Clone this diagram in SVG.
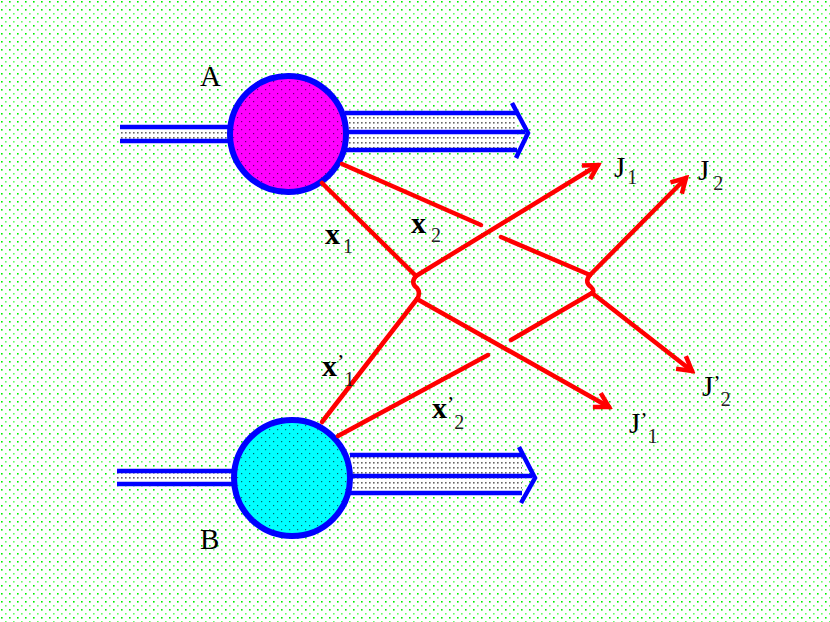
<svg xmlns="http://www.w3.org/2000/svg" width="830" height="622" viewBox="0 0 830 622">
<defs>
<pattern id="bg" width="8" height="8" patternUnits="userSpaceOnUse">
<rect width="8" height="8" fill="#ffffff"/>
<rect x="1" y="1" width="1.6" height="1.6" fill="#00ee00"/>
<rect x="5" y="5" width="1.6" height="1.6" fill="#66ff66"/>
</pattern>
<pattern id="inner" width="8" height="8" patternUnits="userSpaceOnUse">
<rect x="1" y="1" width="1.2" height="1.2" fill="#000" opacity="0.6"/>
<rect x="5" y="5" width="1.2" height="1.2" fill="#000" opacity="0.6"/>
</pattern>
<pattern id="ax" width="4" height="5" patternUnits="userSpaceOnUse">
<rect width="4" height="5" fill="#ffffff"/>
<rect x="1" y="2" width="1.6" height="1.6" fill="#666"/>
</pattern>
<marker id="arr" viewBox="0 0 20 20" refX="16" refY="10" markerWidth="20" markerHeight="20" markerUnits="userSpaceOnUse" orient="auto">
<path d="M2,2 L16,10 L2,18" fill="none" stroke="#ff0000" stroke-width="4.5" stroke-linejoin="miter"/>
</marker>
</defs>
<style>
.ax{stroke:#0000ff;stroke-width:4.5;fill:none}
.cell{stroke:#0000ff;stroke-width:6}
.red{stroke:#ff0000;stroke-width:4.5;fill:none;stroke-linecap:round}
.lbl{font-family:"Liberation Serif",serif;fill:#000;font-size:29px}
.sub{font-size:20px;fill:#222}
.pr{font-size:22px}
.bx{font-size:30px;font-weight:bold}
</style>
<rect width="830" height="622" fill="url(#bg)"/>

<g id="neuronA">
<rect x="120" y="128" width="110" height="12" fill="url(#ax)"/>
<line class="ax" x1="120" y1="127" x2="232" y2="127"/>
<line class="ax" x1="120" y1="141" x2="232" y2="141"/>
<rect x="345" y="114" width="170" height="35" fill="url(#ax)"/>
<line class="ax" x1="345" y1="113" x2="517" y2="113"/>
<line class="ax" x1="345" y1="132" x2="525" y2="132"/>
<line class="ax" x1="345" y1="150" x2="517" y2="150"/>
<path class="ax" d="M512,103 L528,133 L516,158" stroke-width="5"/>
<circle class="cell" cx="288" cy="134" r="58" fill="#ff00ff"/>
<circle cx="288" cy="134" r="55" fill="url(#inner)"/>
<text class="lbl" x="200" y="86">A</text>
</g>

<g id="neuronB">
<rect x="117" y="472" width="118" height="11" fill="url(#ax)"/>
<line class="ax" x1="117" y1="471" x2="236" y2="471"/>
<line class="ax" x1="117" y1="484" x2="236" y2="484"/>
<rect x="350" y="456" width="172" height="36" fill="url(#ax)"/>
<line class="ax" x1="350" y1="455" x2="522" y2="455"/>
<line class="ax" x1="350" y1="476" x2="532" y2="476"/>
<line class="ax" x1="350" y1="493" x2="522" y2="493"/>
<path class="ax" d="M519,447 L535,478 L521,503" stroke-width="5"/>
<circle class="cell" cx="292" cy="478" r="58" fill="#00ffff"/>
<circle cx="292" cy="478" r="55" fill="url(#inner)"/>
<text class="lbl" x="200" y="549">B</text>
</g>

<g id="connectors">
<path class="red" d="M322,183 L416,276"/>
<path class="red" d="M342,164 L481,225"/>
<path class="red" d="M501,237 L590,275"/>
<path class="red" d="M322,422 L417,299"/>
<path class="red" d="M338,436 L488,355"/>
<path class="red" d="M511,340 L592,293"/>
<path class="red" d="M416,276 Q410,283 417,288 Q421,293 417,299"/>
<path class="red" d="M590,275 Q584,282 591,287 Q595,291 592,293"/>
<path class="red" d="M416,276 L598,165" marker-end="url(#arr)"/>
<path class="red" d="M590,275 L686,178" marker-end="url(#arr)"/>
<path class="red" d="M417,299 L609,407" marker-end="url(#arr)"/>
<path class="red" d="M592,293 L692,371" marker-end="url(#arr)"/>
</g>

<g id="labels">
<text class="lbl" x="325" y="244"><tspan class="bx">x</tspan><tspan class="sub" dx="3" dy="9">1</tspan></text>
<text class="lbl" x="411" y="233"><tspan class="bx">x</tspan><tspan class="sub" dx="5" dy="9">2</tspan></text>
<text class="lbl" x="322" y="376"><tspan class="bx">x</tspan><tspan class="pr" dy="-7">’</tspan><tspan class="sub" dy="17">1</tspan></text>
<text class="lbl" x="432" y="418"><tspan class="bx">x</tspan><tspan class="pr" dy="-7">’</tspan><tspan class="sub" dy="18">2</tspan></text>
<text class="lbl" x="614" y="177">J<tspan class="sub" dx="2" dy="7">1</tspan></text>
<text class="lbl" x="698" y="180">J<tspan class="sub" dx="4" dy="10">2</tspan></text>
<text class="lbl" x="702" y="396">J<tspan class="pr" dy="-6">’</tspan><tspan class="sub" dy="16">2</tspan></text>
<text class="lbl" x="629" y="433">J<tspan class="pr" dy="-6">’</tspan><tspan class="sub" dy="16">1</tspan></text>
</g>
</svg>
